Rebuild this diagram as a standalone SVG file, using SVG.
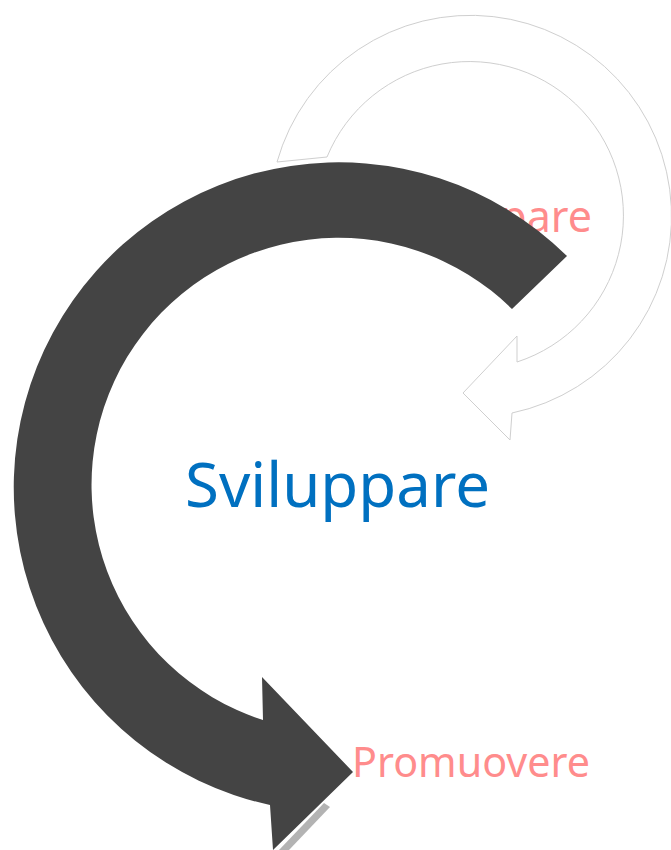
<svg xmlns="http://www.w3.org/2000/svg" width="671" height="850" viewBox="0 0 671 850">
  <style>
    .lbl { font-family: "Noto Sans", "Open Sans", "Liberation Sans", sans-serif; }
    .pink { fill: #FF8C8C; }
    .blue { fill: #0070C0; }
    .dark { fill: #444444; }
    .light { fill: #FFFFFF; stroke: #CFCFCF; stroke-width: 1; }
  </style>
  <rect width="671" height="850" fill="#FFFFFF"/>
  <g id="connectors">
    <g id="arrow-light">
      <path class="light" d="M 277,162 A 201 201 0 1 1 512,413 L 510,440 L 463,393 L 517,336 L 517,362 A 154 154 0 1 0 327,157 Z"/>
    </g>
  </g>
  <g id="label-top">
    <text class="lbl pink" x="592" y="232" font-size="43" text-anchor="end">pare</text>
  </g>
  <g id="connectors-front">
    <g id="arrow-dark">
      <polygon points="279,850 324,803 330,807 289,850" fill="#B3B3B3"/>
      <path class="dark" d="M 567,256 A 325 325 0 1 0 270,805 L 273,850 L 353,772 L 262,677 L 263,720 A 247 247 0 1 1 512,309 Z"/>
    </g>
  </g>
  <g id="label-sviluppare">
    <text class="lbl blue" x="185" y="507" font-size="62" textLength="305" lengthAdjust="spacingAndGlyphs">Sviluppare</text>
  </g>
  <g id="label-promuovere">
    <text class="lbl pink" x="352" y="777" font-size="41" textLength="238" lengthAdjust="spacingAndGlyphs">Promuovere</text>
  </g>
</svg>
